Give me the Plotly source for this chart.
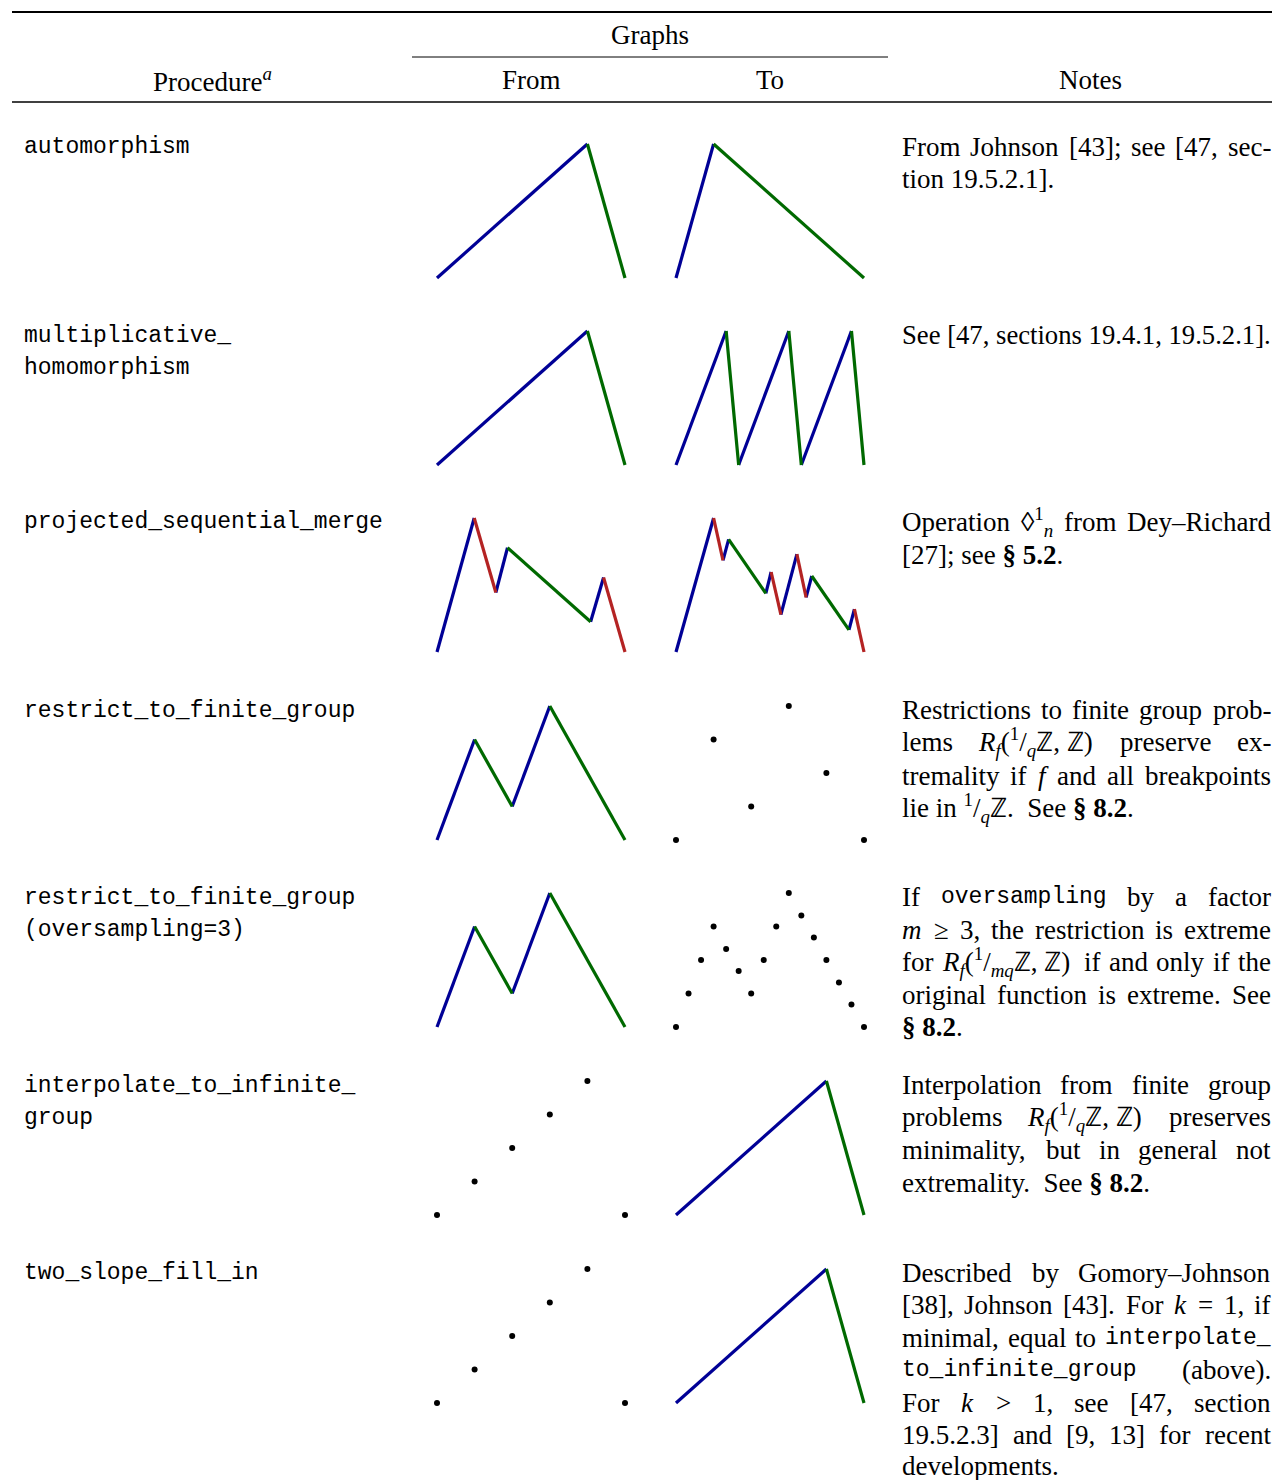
import re
import plotly.graph_objects as go

W, H = 1280, 1480
OFF = 8  # page body margin

# ---------------- data ----------------
procedures = [
    ["automorphism"],
    ["multiplicative_", "homomorphism"],
    ["projected_sequential_merge"],
    ["restrict_to_finite_group"],
    ["restrict_to_finite_group", "(oversampling=3)"],
    ["interpolate_to_infinite_", "group"],
    ["two_slope_fill_in"],
]

# row 1: automorphism
auto_from_x = [0, 0.8, 1]
auto_from_y = [0, 1, 0]
auto_to_x = [0, 0.2, 1]
auto_to_y = [0, 1, 0]
# row 2: multiplicative_homomorphism
mult_from_x = [0, 0.8, 1]
mult_from_y = [0, 1, 0]
mult_to_x = [0, 0.2667, 0.3333, 0.6, 0.6667, 0.9333, 1]
mult_to_y = [0, 1, 0, 1, 0, 1, 0]
# row 3: projected_sequential_merge
psm_from_x = [0, 0.198, 0.313, 0.375, 0.817, 0.886, 1]
psm_from_y = [0, 1, 0.444, 0.778, 0.226, 0.556, 0]
psm_to_x = [0, 0.2, 0.25, 0.28, 0.478, 0.506, 0.558, 0.643, 0.692, 0.722, 0.920, 0.949, 1]
psm_to_y = [0, 1, 0.684, 0.84, 0.437, 0.597, 0.279, 0.73, 0.407, 0.567, 0.165, 0.32, 0]
# row 4: restrict_to_finite_group
rfg_from_x = [0, 0.2, 0.4, 0.6, 1]
rfg_from_y = [0, 0.75, 0.25, 1, 0]
rfg_to_x = [0, 0.2, 0.4, 0.6, 0.8, 1]
rfg_to_y = [0, 0.75, 0.25, 1, 0.5, 0]
# row 5: restrict_to_finite_group (oversampling=3)
rfo_from_x = [0, 0.2, 0.4, 0.6, 1]
rfo_from_y = [0, 0.75, 0.25, 1, 0]
rfo_to_x = [0, 0.0667, 0.1333, 0.2, 0.2667, 0.3333, 0.4, 0.4667, 0.5333, 0.6,
            0.6667, 0.7333, 0.8, 0.8667, 0.9333, 1]
rfo_to_y = [0, 0.25, 0.5, 0.75, 0.583, 0.417, 0.25, 0.5, 0.75, 1,
            0.833, 0.667, 0.5, 0.333, 0.167, 0]
# row 6: interpolate_to_infinite_group
iig_from_x = [0, 0.2, 0.4, 0.6, 0.8, 1]
iig_from_y = [0, 0.25, 0.5, 0.75, 1, 0]
iig_to_x = [0, 0.8, 1]
iig_to_y = [0, 1, 0]
# row 7: two_slope_fill_in
tsf_from_x = [0, 0.2, 0.4, 0.6, 0.8, 1]
tsf_from_y = [0, 0.25, 0.5, 0.75, 1, 0]
tsf_to_x = [0, 0.8, 1]
tsf_to_y = [0, 1, 0]

graphs = [
    ((auto_from_x, auto_from_y, "line"), (auto_to_x, auto_to_y, "line")),
    ((mult_from_x, mult_from_y, "line"), (mult_to_x, mult_to_y, "line")),
    ((psm_from_x, psm_from_y, "line"), (psm_to_x, psm_to_y, "line")),
    ((rfg_from_x, rfg_from_y, "line"), (rfg_to_x, rfg_to_y, "dots")),
    ((rfo_from_x, rfo_from_y, "line"), (rfo_to_x, rfo_to_y, "dots")),
    ((iig_from_x, iig_from_y, "dots"), (iig_to_x, iig_to_y, "line")),
    ((tsf_from_x, tsf_from_y, "dots"), (tsf_to_x, tsf_to_y, "line")),
]

MONO = "'Liberation Mono', monospace"
MONO_SIZE = 23
SERIF = "Liberation Serif, Times New Roman, serif"
SERIF_SIZE = 27
NB = "\u00a0"


def tt(s):
    return "<span style=\"font-family:%s;font-size:%dpx\">%s</span>" % (MONO, MONO_SIZE, s)


Rq = "<i>R<sub>f</sub></i>(<sup>1</sup>/<sub><i>q</i></sub>ℤ," + NB + "ℤ)"
Rmq = "<i>R<sub>f</sub></i>(<sup>1</sup>/<sub><i>mq</i></sub>ℤ," + NB + "ℤ)"
S82 = "<b>§" + NB + "8.2</b>."

notes = [
    ["From Johnson [43]; see [47, sec-", "tion 19.5.2.1]."],
    ["See [47, sections 19.4.1, 19.5.2.1]."],
    ["Operation ◊<sup>1</sup><sub><i>n</i></sub> from Dey–Richard",
     "[27]; see <b>§" + NB + "5.2</b>."],
    ["Restrictions to finite group prob-",
     "lems " + Rq + " preserve ex-",
     "tremality if <i>f</i> and all breakpoints",
     "lie in <sup>1</sup>/<sub><i>q</i></sub>ℤ." + NB + NB + "See " + S82],
    ["If " + tt("oversampling") + " by a factor",
     "<i>m</i> ≥ 3, the restriction is extreme",
     "for " + Rmq + " if and only if the",
     "original function is extreme. See",
     S82],
    ["Interpolation from finite group",
     "problems " + Rq + " preserves",
     "minimality, but in general not",
     "extremality." + NB + NB + "See " + S82],
    ["Described by Gomory–Johnson",
     "[38], Johnson [43]. For <i>k</i> = 1, if",
     "minimal, equal to " + tt("interpolate_"),
     tt("to_infinite_group") + " (above).",
     "For <i>k</i> &gt; 1, see [47, section",
     "19.5.2.3] and [9, 13] for recent",
     "developments."],
]

# ---------------- geometry (reference pixels) ----------------
row_top = [144, 331, 518, 706, 893, 1081, 1269]
GH = 134
col_x = [(437, 625), (676, 864)]
proc_y = [[147], [336, 368], [522], [711], [898, 930], [1086, 1118], [1273]]
note_y = [[147, 179], [335], [522, 555], [710, 742, 776, 808],
          [897, 930, 962, 995, 1027], [1085, 1117, 1150, 1183],
          [1273, 1305, 1338, 1370, 1403, 1435, 1466]]
NOTE_L, NOTE_R = 902, 1271

BLUE = "rgb(0,0,150)"
GREEN = "rgb(0,105,0)"
RED = "rgb(180,35,35)"


def px(x):
    return (x - OFF) / W


def py(y):
    return 1 - (y - OFF) / H


def seg_colors(xs, ys):
    s = [(ys[i + 1] - ys[i]) / (xs[i + 1] - xs[i]) for i in range(len(xs) - 1)]
    neg = [abs(v) for v in s if v < 0]
    three = len(neg) > 0 and max(neg) / min(neg) > 2
    thr = (max(neg) * min(neg)) ** 0.5 if neg else 0
    cols = []
    for v in s:
        if v > 0:
            cols.append(BLUE)
        elif three and abs(v) > thr:
            cols.append(RED)
        else:
            cols.append(GREEN)
    return cols


fig = go.Figure()
layout = {}
PAD = 8
ax = 0
for r, pair in enumerate(graphs):
    for c, (xs, ys, kind) in enumerate(pair):
        ax += 1
        xname = "x" if ax == 1 else "x%d" % ax
        yname = "y" if ax == 1 else "y%d" % ax
        x0, x1 = col_x[c]
        top = row_top[r]
        bot = top + GH
        gw = x1 - x0
        layout["xaxis" if ax == 1 else "xaxis%d" % ax] = dict(
            domain=[px(x0 - PAD), px(x1 + PAD)],
            range=[-PAD / gw, 1 + PAD / gw],
            visible=False, anchor=yname, fixedrange=True)
        layout["yaxis" if ax == 1 else "yaxis%d" % ax] = dict(
            domain=[py(bot + PAD), py(top - PAD)],
            range=[-PAD / GH, 1 + PAD / GH],
            visible=False, anchor=xname, fixedrange=True)
        if kind == "dots":
            fig.add_trace(go.Scatter(x=xs, y=ys, mode="markers", xaxis=xname, yaxis=yname,
                                     marker=dict(color="black", size=6),
                                     showlegend=False, hoverinfo="skip"))
        else:
            cols = seg_colors(xs, ys)
            for col in [BLUE, GREEN, RED]:
                sx, sy = [], []
                for i, cc in enumerate(cols):
                    if cc == col:
                        sx += [xs[i], xs[i + 1], None]
                        sy += [ys[i], ys[i + 1], None]
                if sx:
                    fig.add_trace(go.Scatter(x=sx, y=sy, mode="lines", xaxis=xname, yaxis=yname,
                                             line=dict(color=col, width=3.2),
                                             showlegend=False, hoverinfo="skip"))

# ---------------- text ----------------
TIMES = {
    " ": 250, NB: 250, "a": 444, "b": 500, "c": 444, "d": 500, "e": 444, "f": 333, "g": 500,
    "h": 500, "i": 278, "j": 278, "k": 500, "l": 278, "m": 778, "n": 500, "o": 500,
    "p": 500, "q": 500, "r": 333, "s": 389, "t": 278, "u": 500, "v": 500, "w": 722,
    "x": 500, "y": 500, "z": 444,
    "A": 722, "B": 667, "C": 667, "D": 722, "E": 611, "F": 556, "G": 722, "H": 722,
    "I": 333, "J": 389, "K": 722, "L": 611, "M": 889, "N": 722, "O": 722, "P": 556,
    "Q": 722, "R": 667, "S": 556, "T": 611, "U": 722, "V": 722, "W": 944, "X": 722,
    "Y": 722, "Z": 611,
    ".": 250, ",": 250, ";": 278, ":": 278, "[": 333, "]": 333, "(": 333, ")": 333,
    "-": 333, "–": 500, "§": 500, "=": 564, ">": 564, "≥": 549, "/": 278, "ℤ": 667,
    "◊": 494,
}


def text_width(markup, size=SERIF_SIZE):
    w = 0.0
    mono = bold = False
    script = 0
    for t in re.split(r"(<[^>]+>)", markup):
        if t.startswith("<"):
            if t.startswith("<sub") or t.startswith("<sup"):
                script += 1
            elif t in ("</sub>", "</sup>"):
                script -= 1
            elif t == "<b>":
                bold = True
            elif t == "</b>":
                bold = False
            elif t.startswith("<span"):
                mono = True
            elif t == "</span>":
                mono = False
            continue
        t = t.replace("&gt;", ">").replace("&lt;", "<").replace("&amp;", "&")
        for ch in t:
            if mono:
                cw = 0.6 * MONO_SIZE
            else:
                cw = TIMES.get(ch, 500) / 1000 * size
                if bold:
                    cw *= 1.1
            if script:
                cw *= 0.7
            w += cw
    return w


annotations = []


def add_text(x, y, text, size=SERIF_SIZE, family=SERIF, xanchor="left"):
    annotations.append(dict(x=px(x), y=py(y), xref="paper", yref="paper",
                            text=text, showarrow=False, xanchor=xanchor, yanchor="middle",
                            borderpad=0, borderwidth=0,
                            font=dict(family=family, size=size, color="black"), align="left"))


def split_words(line):
    # split on spaces that are not inside an HTML tag
    return re.split(r" (?![^<>]*>)", line)


def add_justified(y, line):
    words = split_words(line)
    if len(words) == 1:
        add_text(NOTE_L, y, line)
        return
    widths = [text_width(wd) for wd in words]
    gap = (NOTE_R - NOTE_L - sum(widths)) / (len(words) - 1)
    x = NOTE_L
    for i, wd in enumerate(words):
        if i == len(words) - 1:
            add_text(NOTE_R, y, wd, xanchor="right")
        else:
            add_text(x, y, wd)
        x += widths[i] + gap


def add_last(y, line):
    w = text_width(line)
    size = SERIF_SIZE
    if w > NOTE_R - NOTE_L:
        size = SERIF_SIZE * (NOTE_R - NOTE_L) / w
    add_text(NOTE_L, y, line, size=size)


# header
add_text(650, 35, "Graphs", xanchor="center")
add_text(212, 80, "Procedure<sup><i>a</i></sup>", xanchor="center")
add_text(531, 80, "From", xanchor="center")
add_text(770, 80, "To", xanchor="center")
add_text(1090, 80, "Notes", xanchor="center")

for r in range(len(procedures)):
    for line, yy in zip(procedures[r], proc_y[r]):
        add_text(24, yy, line, size=MONO_SIZE, family=MONO)
    n = len(notes[r])
    for i, (line, yy) in enumerate(zip(notes[r], note_y[r])):
        if i < n - 1:
            add_justified(yy, line)
        else:
            add_last(yy, line)

shapes = [
    dict(type="line", xref="paper", yref="paper", x0=px(12), x1=1, y0=py(12), y1=py(12),
         line=dict(color="black", width=2.2)),
    dict(type="line", xref="paper", yref="paper", x0=px(412), x1=px(888), y0=py(57), y1=py(57),
         line=dict(color="black", width=1)),
    dict(type="line", xref="paper", yref="paper", x0=px(12), x1=1, y0=py(102), y1=py(102),
         line=dict(color="black", width=1.4)),
]

fig.update_layout(width=W, height=H, margin=dict(l=0, r=0, t=0, b=0),
                  paper_bgcolor="white", plot_bgcolor="rgba(0,0,0,0)",
                  annotations=annotations, shapes=shapes, **layout)

fig.write_html("out.html", config={"displayModeBar": False})
